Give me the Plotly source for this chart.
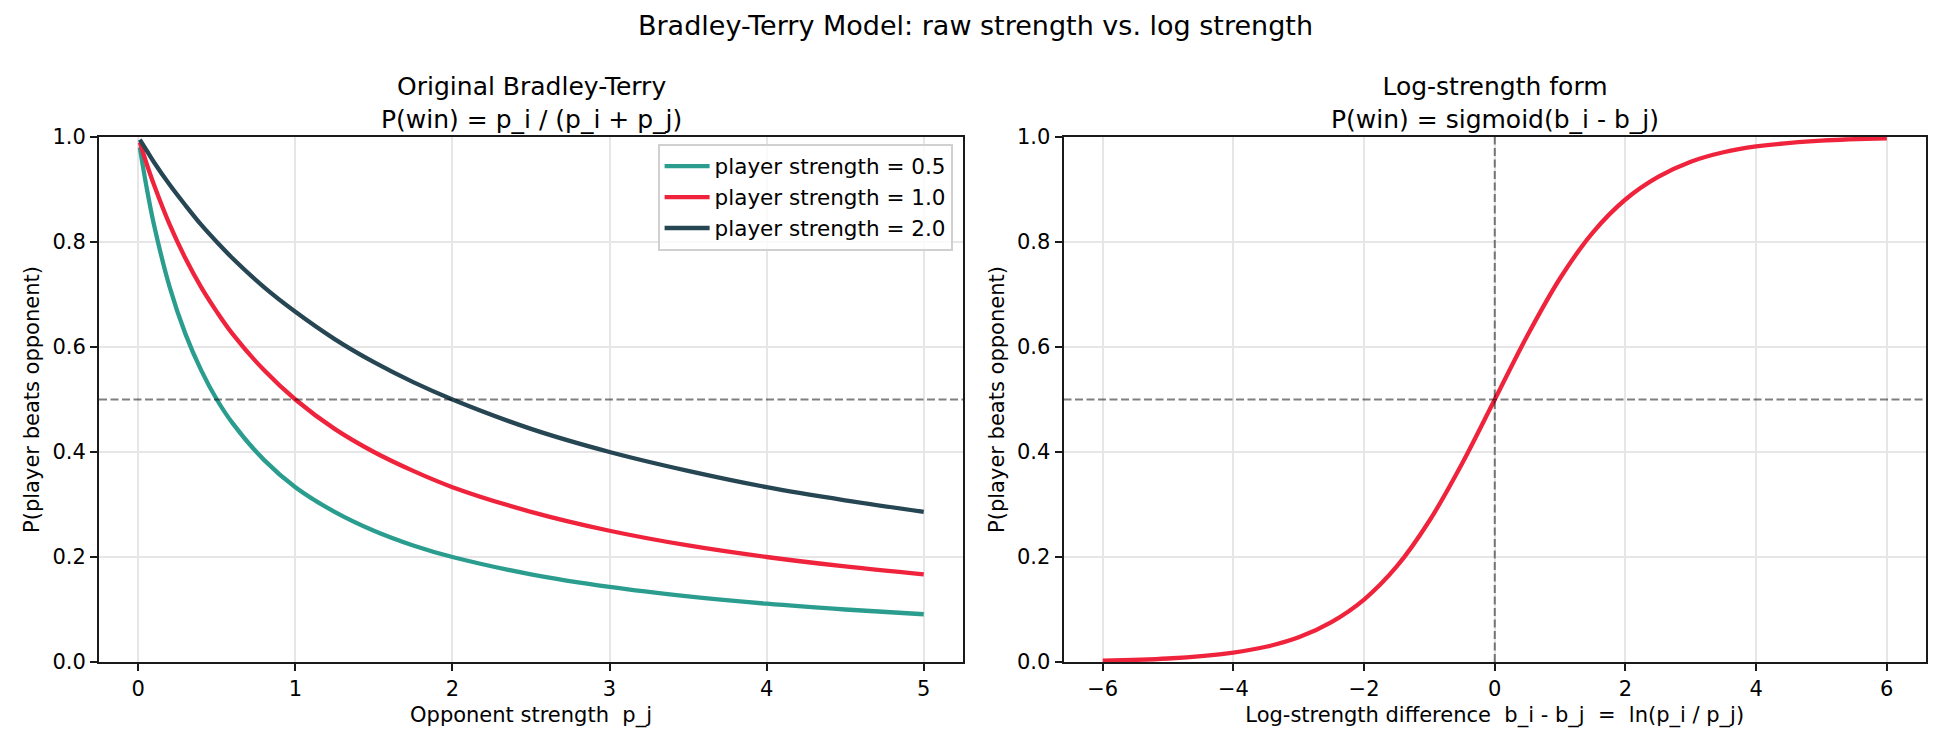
import plotly.graph_objects as go

# ---- data ----
opp_strength = [0.01, 0.05, 0.1, 0.2, 0.3, 0.4, 0.5, 0.6, 0.8, 1.0, 1.25, 1.5, 1.75,
                2.0, 2.5, 3.0, 3.5, 4.0, 4.5, 5.0]
win_p05 = [0.980, 0.909, 0.833, 0.714, 0.625, 0.556, 0.500, 0.455, 0.385, 0.333, 0.286,
           0.250, 0.222, 0.200, 0.167, 0.143, 0.125, 0.111, 0.100, 0.091]
win_p10 = [0.990, 0.952, 0.909, 0.833, 0.769, 0.714, 0.667, 0.625, 0.556, 0.500, 0.444,
           0.400, 0.364, 0.333, 0.286, 0.250, 0.222, 0.200, 0.182, 0.167]
win_p20 = [0.995, 0.976, 0.952, 0.909, 0.870, 0.833, 0.800, 0.769, 0.714, 0.667, 0.615,
           0.571, 0.533, 0.500, 0.444, 0.400, 0.364, 0.333, 0.308, 0.286]
series_names = ["player strength = 0.5", "player strength = 1.0", "player strength = 2.0"]

log_diff = [-6, -5, -4, -3.5, -3, -2.5, -2, -1.5, -1, -0.5, 0, 0.5, 1, 1.5, 2, 2.5, 3,
            3.5, 4, 5, 6]
win_sigmoid = [0.0025, 0.0067, 0.018, 0.029, 0.047, 0.076, 0.119, 0.182, 0.269, 0.378,
               0.500, 0.622, 0.731, 0.818, 0.881, 0.924, 0.953, 0.971, 0.982, 0.993, 0.9975]

y_ticks = [0.0, 0.2, 0.4, 0.6, 0.8, 1.0]
x_ticks_left = [0, 1, 2, 3, 4, 5]
x_ticks_right = [-6, -4, -2, 0, 2, 4, 6]

# ---- styling ----
TEAL, RED, DARK = "#2a9d8f", "#ef233c", "#264653"
FONT = "DejaVu Sans"
W, H = 1950, 750
TICK_SIZE, LABEL_SIZE, LEGEND_SIZE = 21, 21, 21.5

def px_x(p):
    return p / W

def px_y(p):
    return 1 - p / H

fig = go.Figure()
for ys, name, col in zip([win_p05, win_p10, win_p20], series_names, [TEAL, RED, DARK]):
    fig.add_trace(go.Scatter(x=opp_strength, y=ys, name=name, mode="lines",
                             line=dict(color=col, width=4.3, shape="spline"),
                             xaxis="x", yaxis="y"))
fig.add_trace(go.Scatter(x=log_diff, y=win_sigmoid, mode="lines", showlegend=False,
                         line=dict(color=RED, width=4.3, shape="spline"),
                         xaxis="x2", yaxis="y2"))

axis_common = dict(showline=True, mirror=True, linecolor="#1a1a1a", linewidth=2,
                   ticks="outside", ticklen=7, tickwidth=1.8, tickcolor="#1a1a1a",
                   showgrid=True, gridcolor="#e6e6e6", gridwidth=1.6, zeroline=False,
                   automargin=False,
                   tickfont=dict(family=FONT, size=TICK_SIZE, color="black"))

ydom = [px_y(662), px_y(137)]
fig.update_layout(
    width=W, height=H, margin=dict(l=0, r=0, t=0, b=0),
    paper_bgcolor="white", plot_bgcolor="white",
    font=dict(family=FONT, color="black"),
    xaxis=dict(domain=[px_x(99), px_x(963)], range=[-0.25, 5.25], tickvals=x_ticks_left,
               title=dict(text="Opponent strength\u00a0 p_j", standoff=7,
                          font=dict(family=FONT, size=LABEL_SIZE)), anchor="y", **axis_common),
    yaxis=dict(domain=ydom, range=[0, 1], tickvals=y_ticks, tickformat=".1f",
               title=dict(text="P(player beats opponent)", standoff=7,
                          font=dict(family=FONT, size=LABEL_SIZE)), anchor="x", **axis_common),
    xaxis2=dict(domain=[px_x(1063.5), px_x(1926)], range=[-6.6, 6.6], tickvals=x_ticks_right,
                title=dict(text="Log-strength difference\u00a0 b_i - b_j\u00a0 =\u00a0 ln(p_i / p_j)",
                           standoff=7, font=dict(family=FONT, size=LABEL_SIZE)), anchor="y2", **axis_common),
    yaxis2=dict(domain=ydom, range=[0, 1], tickvals=y_ticks, tickformat=".1f",
                title=dict(text="P(player beats opponent)", standoff=7,
                           font=dict(family=FONT, size=LABEL_SIZE)), anchor="x2", **axis_common),
    legend=dict(x=px_x(953), xanchor="right", y=px_y(144), yanchor="top",
                bgcolor="rgba(255,255,255,0.8)", bordercolor="#d0d0d0", borderwidth=1.6,
                itemwidth=45, tracegroupgap=0,
                font=dict(family=FONT, size=LEGEND_SIZE, color="black")),
    showlegend=True,
)

dash_style = dict(color="rgba(0,0,0,0.5)", width=2, dash="8px,3.5px")
fig.add_shape(type="line", xref="x domain", yref="y", x0=0, x1=1, y0=0.5, y1=0.5, line=dash_style)
fig.add_shape(type="line", xref="x2 domain", yref="y2", x0=0, x1=1, y0=0.5, y1=0.5, line=dash_style)
fig.add_shape(type="line", xref="x2", yref="y2 domain", x0=0, x1=0, y0=0, y1=1, line=dash_style)

anns = [
    dict(text="Bradley-Terry Model: raw strength vs. log strength", x=0.5, y=px_y(26), size=27),
    dict(text="Original Bradley-Terry<br>P(win) = p_i / (p_i + p_j)", x=px_x(531), y=px_y(103), size=25),
    dict(text="Log-strength form<br>P(win) = sigmoid(b_i - b_j)", x=px_x(1495), y=px_y(103), size=25),
]
for a in anns:
    fig.add_annotation(text=a["text"], x=a["x"], y=a["y"], xref="paper", yref="paper",
                       xanchor="center", yanchor="middle", showarrow=False,
                       font=dict(family=FONT, size=a["size"], color="black"))

fig.write_html("out.html")
